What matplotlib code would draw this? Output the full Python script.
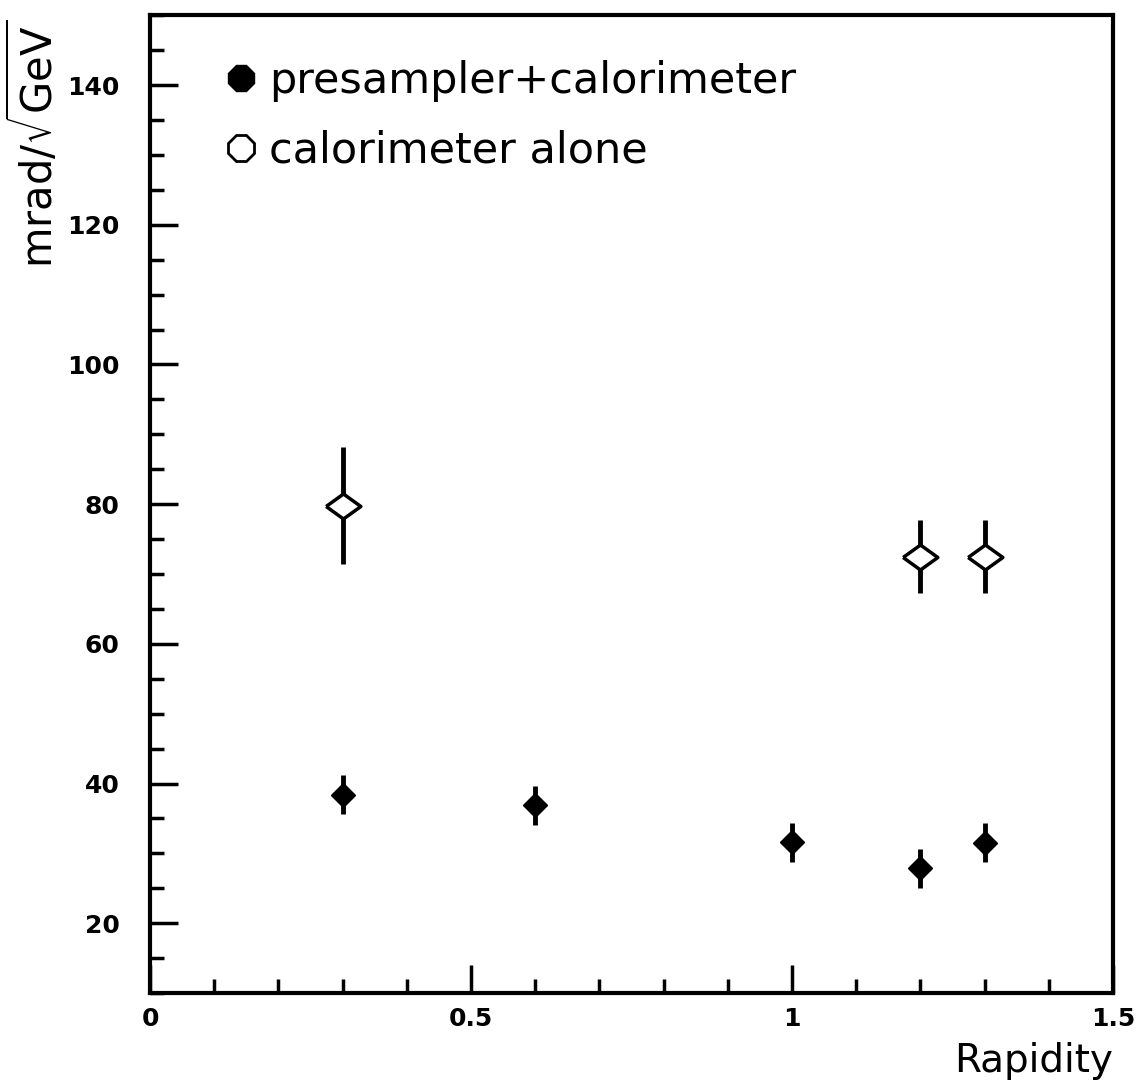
import matplotlib.pyplot as plt
from matplotlib.lines import Line2D
from matplotlib.ticker import MultipleLocator

# angular resolution vs rapidity
rap_full = [0.3, 0.6, 1.0, 1.2, 1.3]
res_full = [38.4, 36.9, 31.6, 27.9, 31.5]
err_full = [2.8, 2.8, 2.8, 2.8, 2.8]

rap_calo = [0.3, 1.2, 1.3]
res_calo = [79.8, 72.5, 72.5]
err_calo = [8.4, 5.2, 5.2]

# flattened diamond for the calorimeter-only points
flat_diamond = [(-1, 0), (0, 0.72), (1, 0), (0, -0.72), (-1, 0)]

fig = plt.figure(figsize=(11.41, 10.83), dpi=100)
ax = fig.add_axes([0.1315, 0.083, 0.844, 0.903])

ax.errorbar(rap_full, res_full, yerr=err_full, fmt="D", color="black",
            markersize=12, elinewidth=3.5, capsize=0)
ax.errorbar(rap_calo, res_calo, yerr=err_calo, fmt="none", ecolor="black",
            elinewidth=3.5, capsize=0)
ax.plot(rap_calo, res_calo, ls="none", marker=flat_diamond, mfc="white",
        mec="black", mew=2.5, markersize=25, zorder=3)

ax.set_xlim(0, 1.5)
ax.set_ylim(10, 150)
ax.xaxis.set_major_locator(MultipleLocator(0.5))
ax.xaxis.set_minor_locator(MultipleLocator(0.1))
ax.yaxis.set_major_locator(MultipleLocator(20))
ax.yaxis.set_minor_locator(MultipleLocator(5))
ax.set_xticks([0, 0.5, 1, 1.5], ["0", "0.5", "1", "1.5"])
ax.tick_params(which="both", direction="in", top=False, right=False,
               width=2.5, labelsize=18)
ax.tick_params(which="major", length=20)
ax.tick_params(which="minor", length=10)
ax.tick_params(axis="y", which="major", pad=22)
ax.tick_params(axis="x", which="major", pad=10)
for lbl in ax.get_xticklabels() + ax.get_yticklabels():
    lbl.set_fontweight("bold")
for s in ax.spines.values():
    s.set_linewidth(3)

ax.set_xlabel("Rapidity", fontsize=28)
ax.xaxis.set_label_coords(1.0, -0.05)
ax.xaxis.label.set_ha("right")
ax.set_ylabel(r"mrad/$\sqrt{\mathrm{GeV}}$", fontsize=30)
ax.yaxis.set_label_coords(-0.12, 0.995)
ax.yaxis.label.set_va("center")
ax.yaxis.label.set_ha("right")

handles = [
    Line2D([], [], ls="none", marker="8", color="black", markersize=20),
    Line2D([], [], ls="none", marker="8", mfc="white", mec="black",
           mew=2, markersize=20),
]
ax.legend(handles, ["presampler+calorimeter", "calorimeter alone"],
          loc="upper left", bbox_to_anchor=(0.05, 0.985), frameon=False,
          fontsize=31, handlelength=0.6, handletextpad=0.35,
          labelspacing=0.65, borderpad=0.2)

fig.savefig("out.png", dpi=100)
